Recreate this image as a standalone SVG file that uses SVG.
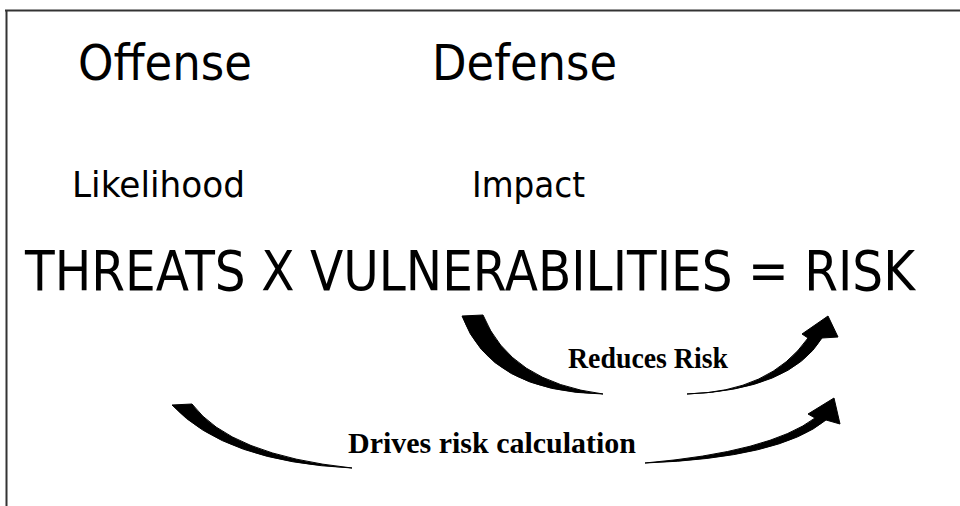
<svg xmlns="http://www.w3.org/2000/svg" width="960" height="506" viewBox="0 0 960 506">
<style>
.sans{font-family:"DejaVu Sans","Liberation Sans",sans-serif;fill:#000}
.serif{font-family:"Liberation Serif","Times New Roman",serif;font-weight:bold;fill:#000}
.arrow{fill:#000;stroke:#000;stroke-width:1}
</style>
<rect width="960" height="506" fill="#fff"/>
<g id="frame" stroke="#333" stroke-width="2" fill="none">
<line x1="5" y1="10.5" x2="960" y2="10.5"/>
<line x1="6.5" y1="10" x2="6.5" y2="506"/>
</g>
<g id="offense"><text class="sans" x="78" y="80" font-size="50" textLength="174" lengthAdjust="spacingAndGlyphs">Offense</text></g>
<g id="defense"><text class="sans" x="432" y="80" font-size="50" textLength="185" lengthAdjust="spacingAndGlyphs">Defense</text></g>
<g id="likelihood"><text class="sans" x="72" y="197" font-size="35" textLength="173" lengthAdjust="spacingAndGlyphs">Likelihood</text></g>
<g id="impact"><text class="sans" x="472" y="197" font-size="35" textLength="113" lengthAdjust="spacingAndGlyphs">Impact</text></g>
<g id="equation"><text class="sans" x="25" y="290" font-size="55" textLength="890" lengthAdjust="spacingAndGlyphs">THREATS X VULNERABILITIES = RISK</text></g>
<g id="connectors">
<path class="arrow" d="M462 316 L483 315 Q510 382 603 394 Q490 392 462 316 Z"/>
<path class="arrow" d="M687 394 Q770 392 808 338 L802 334 L828 316 L838 337 L822 338 Q790 390 687 394 Z"/>
<path class="arrow" d="M172 405 L192 404 Q230 455 352 468 Q225 462 172 405 Z"/>
<path class="arrow" d="M645 463 Q770 452 815 418 L808 414 L834 398 L840 424 L826 420 Q780 458 645 463 Z"/>
</g>
<g id="label-reduces"><text class="serif" x="568" y="368" font-size="29" textLength="160" lengthAdjust="spacingAndGlyphs">Reduces Risk</text></g>
<g id="label-drives"><text class="serif" x="348" y="453" font-size="29" textLength="288" lengthAdjust="spacingAndGlyphs">Drives risk calculation</text></g>
</svg>
